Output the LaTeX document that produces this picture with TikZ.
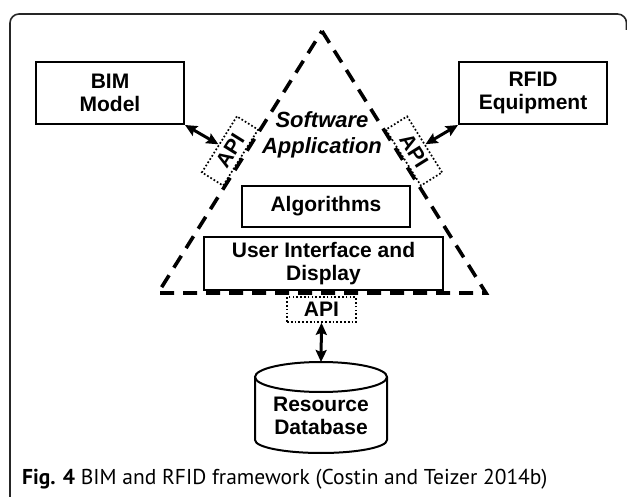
\documentclass[tikz,border=0pt]{standalone}
\usepackage{fontspec}
\setmainfont{Liberation Sans}
\newfontfamily\captionfont{PT Sans}
\usetikzlibrary{arrows.meta}

\tikzset{
  box/.style={draw, line width=2pt, inner sep=0pt, align=center,
    font=\fontsize{21}{23}\selectfont\bfseries},
  apibox/.style={draw, line width=1.7pt, dash pattern=on 1.7pt off 2.1pt,
    inner sep=0pt, minimum width=66pt, minimum height=25pt,
    font=\fontsize{21}{23}\selectfont\bfseries},
  tri/.style={line width=3.6pt, dash pattern=on 14pt off 9pt},
  link/.style={line width=3pt, {Stealth[length=12pt,width=11pt,inset=2pt]}-{Stealth[length=12pt,width=11pt,inset=2pt]}},
  dbline/.style={line width=2pt}
}

\begin{document}
\begin{tikzpicture}[x=1pt, y=-1pt]
\useasboundingbox (0,0) rectangle (627,497);

% outer frame
\draw[line width=1.6pt, color=black!85, rounded corners=9pt]
  (10,497) -- (10,14) -- (626.5,14) -- (626.5,30);

% software application triangle
\coordinate (apex) at (322,31);
\coordinate (tl) at (158,293);
\coordinate (tr) at (486,293);
\draw[tri] (apex) -- (tr) -- (tl) -- cycle;

\node[font=\fontsize{22}{26}\selectfont\bfseries\itshape, align=center] (sw) at (322,135) {Software\\Application};

% boxes
\node[box, minimum width=148pt, minimum height=62pt] (bim) at (110,93) {BIM\\Model};
\node[box, minimum width=148pt, minimum height=62pt] (rfid) at (533,93) {RFID\\Equipment};
\node[box, minimum width=168pt, minimum height=41pt] (alg) at (326,206.5) {Algorithms};
\node[box, minimum width=239pt, minimum height=53pt] (ui) at (323.5,263.5) {User Interface and\\Display};

% interfaces
\node[apibox, rotate=58] (apiL) at (230,151) {API};
\node[apibox, rotate=-58] (apiR) at (414,151) {API};
\node[apibox, minimum width=69pt] (apiB) at (321.5,309.5) {API};

% resource database cylinder
\node[font=\fontsize{21}{23}\selectfont\bfseries, align=center] (db) at (321,416) {Resource\\Database};
\coordinate (dbtop) at (321,362);
\draw[dbline] (321,377) ellipse [x radius=66pt, y radius=15pt];
\draw[dbline] (255,377) -- (255,440) arc[start angle=180, end angle=360, x radius=66pt, y radius=13pt] -- (387,377);

% connectors
\draw[link] (bim.south east) -- (apiL);
\draw[link] (rfid.south west) -- (apiR);
\draw[link] (apiB.south) -- (dbtop);

% caption
\node[anchor=base west, inner sep=0pt, font=\captionfont\fontsize{21.5}{24}\selectfont] (cap) at (22,484)
  {\textbf{Fig. 4} BIM and RFID framework (Costin and Teizer 2014b)};
\end{tikzpicture}
\end{document}
